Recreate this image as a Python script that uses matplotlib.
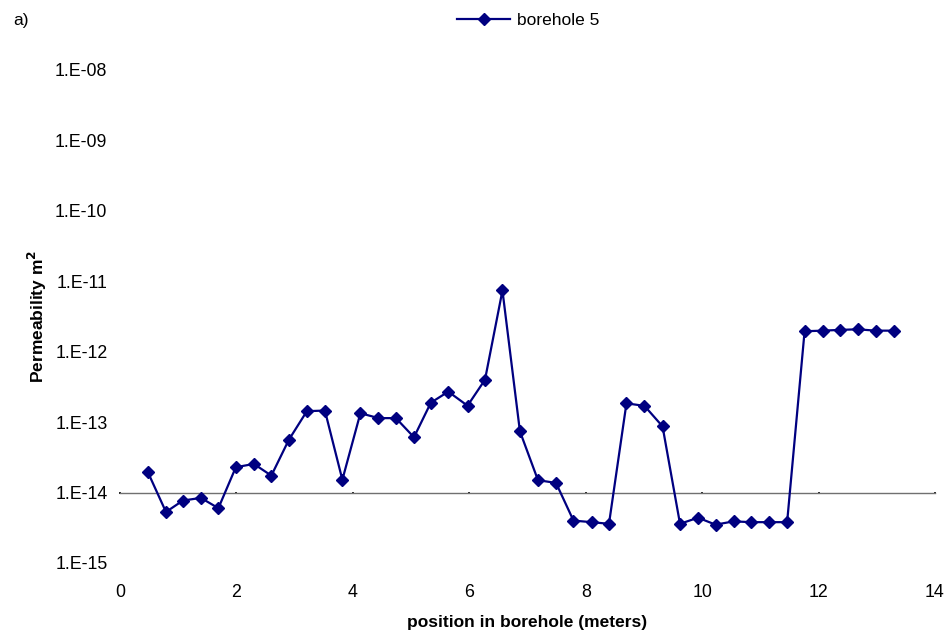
import math
import matplotlib
matplotlib.use("Agg")
import matplotlib.pyplot as plt
from matplotlib.ticker import FixedLocator, FuncFormatter, NullFormatter

plt.rcParams['font.family'] = ['Liberation Sans', 'DejaVu Sans']

# Borehole 5 permeability profile
position_m = [0.48, 0.79, 1.08, 1.39, 1.69, 1.99, 2.30, 2.60, 2.90, 3.21,
              3.52, 3.82, 4.13, 4.44, 4.74, 5.05, 5.34, 5.64, 5.97, 6.27,
              6.57, 6.87, 7.18, 7.49, 7.79, 8.10, 8.40, 8.70, 9.01, 9.32,
              9.62, 9.93, 10.23, 10.54, 10.84, 11.15, 11.46, 11.76, 12.07, 12.37,
              12.67, 12.98, 13.29]
permeability_m2 = [1.94e-14, 5.3e-15, 7.7e-15, 8.4e-15, 6.0e-15, 2.29e-14, 2.55e-14, 1.74e-14, 5.6e-14, 1.43e-13,
                   1.46e-13, 1.52e-14, 1.34e-13, 1.14e-13, 1.14e-13, 6.1e-14, 1.89e-13, 2.71e-13, 1.71e-13, 4.0e-13,
                   7.4e-12, 7.4e-14, 1.5e-14, 1.37e-14, 4.0e-15, 3.8e-15, 3.6e-15, 1.85e-13, 1.7e-13, 8.7e-14,
                   3.6e-15, 4.4e-15, 3.5e-15, 3.9e-15, 3.8e-15, 3.8e-15, 3.8e-15, 1.95e-12, 1.99e-12, 2.04e-12,
                   2.08e-12, 1.99e-12, 1.99e-12]
series_name = "borehole 5"
x_ticks = [0, 2, 4, 6, 8, 10, 12, 14]
y_ticks = [1e-15, 1e-14, 1e-13, 1e-12, 1e-11, 1e-10, 1e-9, 1e-8]

fig = plt.figure(figsize=(9.5, 6.35), dpi=100)
ax = fig.add_axes([0.1263, 0.1134, 0.8579, 0.7764])

line, = ax.plot(position_m, permeability_m2, color='#000080', lw=1.6,
                marker='D', ms=6.6, mfc='#000080', mec='#000080', label=series_name)

ax.set_yscale('log')
ax.set_xlim(0, 14)
ax.set_ylim(1e-15, 1e-8)

for s in ax.spines.values():
    s.set_visible(False)

ax.yaxis.set_major_locator(FixedLocator(y_ticks))
ax.yaxis.set_minor_locator(FixedLocator([]))
ax.yaxis.set_major_formatter(FuncFormatter(lambda v, p: "1.E%03d" % round(math.log10(v))))
ax.tick_params(axis='y', length=0, pad=9, labelsize=12.8)

ax.xaxis.set_major_locator(FixedLocator(x_ticks))
ax.tick_params(axis='x', length=0, pad=15, labelsize=12.8)

# category axis crossing at 1.E-14
cross = ax.secondary_xaxis(1.0 / 7.0)
cross.xaxis.set_major_locator(FixedLocator(x_ticks))
cross.xaxis.set_major_formatter(NullFormatter())
cross.tick_params(axis='x', direction='inout', length=1.5, width=1.2, color='black')
cross.spines['bottom'].set_color('#707070')
cross.spines['bottom'].set_linewidth(1.0)
for k in ('top', 'left', 'right'):
    cross.spines[k].set_visible(False)

ax.set_xlabel("position in borehole (meters)", fontsize=12.5, fontweight='bold', labelpad=10)
ax.set_ylabel("Permeability m$^{\\mathbf{2}}$", fontsize=12.5, fontweight='bold', labelpad=10)
ax.yaxis.set_label_coords(-0.087, 0.5)

fig.text(0.014, 0.968, "a)", fontsize=12.5, ha='left', va='center')

fig.legend(handles=[line], loc='center', bbox_to_anchor=(0.556, 0.968), frameon=False,
           fontsize=12.5, handlelength=3.0, handletextpad=0.4, markerscale=1.0)

fig.savefig("out.png", dpi=100)
